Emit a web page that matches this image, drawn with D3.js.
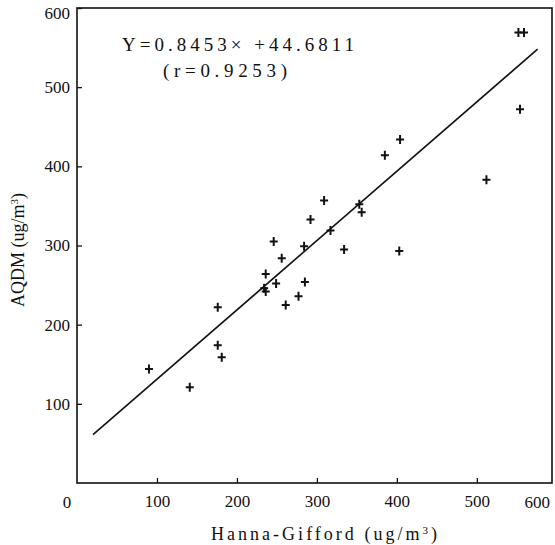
<!DOCTYPE html>
<html>
<head>
<meta charset="utf-8">
<script src="https://cdn.jsdelivr.net/npm/d3@7"></script>
<style>
  body { margin: 0; background: #fff; }
  text { font-family: "Liberation Serif", "DejaVu Serif", serif; fill: #111; }
</style>
</head>
<body>
<div id="chart"></div>
<script>
// Hanna-Gifford (x) vs AQDM (y), ug/m3
const hannaGifford = [90, 141, 176, 176, 181, 234, 236, 236, 246, 249, 256, 261, 277, 284, 285,
    292, 309, 317, 334, 353, 356, 385, 403, 404, 512, 552, 559, 554];
const aqdm = [144, 121, 222, 174, 159, 246, 242, 264, 305, 252, 284, 225, 236, 299, 254,
    333, 357, 319, 295, 352, 342, 414, 293, 434, 383, 569, 569, 472];

// fitted line as drawn in the figure
const fitX = [20, 576];
const fitY = [61, 548];

const xTicks = [100, 200, 300, 400, 500];
const yTicks = [100, 200, 300, 400, 500, 600];

const width = 555, height = 545;
const margin = { left: 77, right: 3, top: 8, bottom: 62 };

const svg = d3.select("#chart").append("svg")
    .attr("width", width)
    .attr("height", height)
    .attr("viewBox", [0, 0, width, height]);

const xScale = d3.scaleLinear([0, 594], [margin.left, width - margin.right]);
const yScale = d3.scaleLinear([0, 600], [height - margin.bottom, margin.top]);

// frame
svg.append("rect")
    .attr("x", xScale(0))
    .attr("y", yScale(600))
    .attr("width", xScale(594) - xScale(0))
    .attr("height", yScale(0) - yScale(600))
    .attr("fill", "none")
    .attr("stroke", "#111")
    .attr("stroke-width", 1.6);

const xAxis = svg.append("g")
    .attr("transform", `translate(0, ${yScale(0)})`)
    .call(d3.axisBottom(xScale).tickValues(xTicks).tickSizeInner(-5).tickSizeOuter(0).tickPadding(12));

const yAxis = svg.append("g")
    .attr("transform", `translate(${xScale(0)}, 0)`)
    .call(d3.axisLeft(yScale).tickValues(yTicks).tickSizeInner(-5).tickSizeOuter(0).tickPadding(7));

[xAxis, yAxis].forEach(g => {
    g.select(".domain").remove();
    g.selectAll(".tick line").attr("stroke", "#111").attr("stroke-width", 1.3);
    g.selectAll(".tick text").attr("font-size", 17).attr("font-family", "Liberation Serif").attr("fill", "#111");
});
yAxis.selectAll(".tick text").filter(d => d == 600).attr("dy", "0.62em");

// end labels of the x axis
svg.append("text")
    .attr("x", xScale(0) - 10)
    .attr("y", yScale(0) + 25)
    .attr("text-anchor", "middle")
    .attr("font-size", 17)
    .text("0");

svg.append("text")
    .attr("x", xScale(594) - 2)
    .attr("y", yScale(0) + 25)
    .attr("text-anchor", "end")
    .attr("font-size", 17)
    .text("600");

// regression line
const lineGen = d3.line()
    .x(d => xScale(d[0]))
    .y(d => yScale(d[1]));

svg.append("path")
    .attr("fill", "none")
    .attr("stroke", "#111")
    .attr("stroke-width", 1.6)
    .attr("d", lineGen(d3.zip(fitX, fitY)));

// points as small crosses
svg.append("g")
    .selectAll("path")
    .data(d3.zip(hannaGifford, aqdm))
    .join("path")
    .attr("transform", d => `translate(${xScale(d[0])}, ${yScale(d[1])})`)
    .attr("d", "M-4,0H4M0,-4.5V4.5")
    .attr("stroke", "#111")
    .attr("stroke-width", 2);

// equation
svg.append("text")
    .attr("x", 122)
    .attr("y", 51)
    .attr("font-size", 19)
    .attr("textLength", 232)
    .text("Y=0.8453\u00d7 +44.6811");

svg.append("text")
    .attr("x", 163)
    .attr("y", 77)
    .attr("font-size", 19)
    .attr("textLength", 124)
    .text("(r=0.9253)");

// axis titles
svg.append("text")
    .attr("x", 211)
    .attr("y", 540)
    .attr("font-size", 18)
    .attr("textLength", 226)
    .html("Hanna-Gifford (ug/m<tspan font-size='11' dy='-6'>3</tspan><tspan dy='6'>)</tspan>");

svg.append("text")
    .attr("transform", `translate(24, 250) rotate(-90)`)
    .attr("text-anchor", "middle")
    .attr("font-size", 18)
    .html("AQDM (ug/m<tspan font-size='11' dy='-6'>3</tspan><tspan dy='6'>)</tspan>");
</script>
</body>
</html>
